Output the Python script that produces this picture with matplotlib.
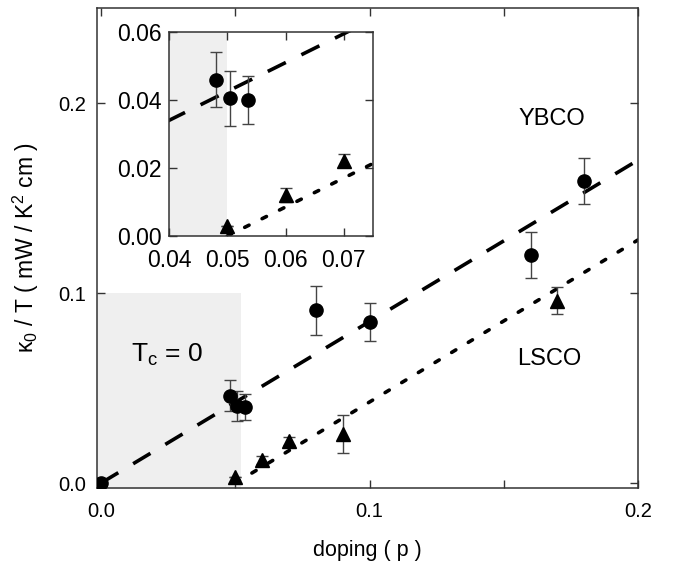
import matplotlib
matplotlib.use('Agg')
import matplotlib.pyplot as plt
from matplotlib.ticker import FormatStrFormatter, MultipleLocator

plt.rcParams['font.family'] = ['Liberation Sans', 'DejaVu Sans']
plt.rcParams['mathtext.default'] = 'regular'
plt.rcParams['lines.scale_dashes'] = False

# ---- data ----
ybco_p = [0.0, 0.048, 0.0505, 0.0535, 0.08, 0.10, 0.16, 0.18]
ybco_k = [0.0, 0.046, 0.0405, 0.040, 0.091, 0.085, 0.120, 0.159]
ybco_err = [0.0, 0.008, 0.008, 0.007, 0.013, 0.010, 0.012, 0.012]

lsco_p = [0.05, 0.06, 0.07, 0.09, 0.17]
lsco_k = [0.003, 0.012, 0.0222, 0.026, 0.096]
lsco_err = [0.0, 0.002, 0.002, 0.010, 0.007]

ybco_fit_p = [0.0, 0.2]
ybco_fit_k = [0.0, 0.170]
lsco_fit_p = [0.05, 0.2]
lsco_fit_k = [0.0, 0.128]

main_xticks = [0.0, 0.1, 0.2]
main_yticks = [0.0, 0.1, 0.2]
inset_xticks = [0.04, 0.05, 0.06, 0.07]
inset_yticks = [0.00, 0.02, 0.04, 0.06]

shade_color = '#efefef'
err_color = '#444444'
spine_color = '#333333'


def draw(ax, ms, tri_ms):
    ax.errorbar(ybco_p, ybco_k, yerr=ybco_err, fmt='o', color='black',
                ms=ms, ecolor=err_color, elinewidth=1.0, capsize=4.5,
                capthick=1.0, zorder=3)
    ax.errorbar(lsco_p, lsco_k, yerr=lsco_err, fmt='^', color='black',
                ms=tri_ms, ecolor=err_color, elinewidth=1.0, capsize=4.5,
                capthick=1.0, zorder=3)
    l1, = ax.plot(ybco_fit_p, ybco_fit_k, color='black', lw=2.6, zorder=2,
                  solid_capstyle='butt')
    l1.set_linestyle((0, (14.5, 12.5)))
    l1.set_dash_capstyle('butt')
    l2, = ax.plot(lsco_fit_p, lsco_fit_k, color='black', lw=2.6, zorder=2)
    l2.set_linestyle((0, (3.5, 10.5)))
    l2.set_dash_capstyle('round')


def style(ax, labelsize):
    for s in ax.spines.values():
        s.set_color(spine_color)
        s.set_linewidth(1.1)
    ax.tick_params(which='both', direction='in', top=True, right=True,
                   color=spine_color, width=1.0, labelsize=labelsize)
    ax.tick_params(which='major', length=6)
    ax.tick_params(which='minor', length=6)


fig = plt.figure(figsize=(6.75, 5.66), dpi=100)

# ---- main axes ----
ax = fig.add_axes([97 / 675, 1 - 488 / 566, (638 - 97) / 675, (488 - 8) / 566])
ax.set_xlim(-0.0015, 0.2)
ax.set_ylim(-0.0026, 0.2501)
ax.fill_between([-0.01, 0.052], -0.01, 0.1, color=shade_color, lw=0, zorder=0)
draw(ax, 9.5, 10.5)
ax.set_xticks(main_xticks)
ax.xaxis.set_minor_locator(MultipleLocator(0.05))
ax.set_yticks(main_yticks)
ax.xaxis.set_major_formatter(FormatStrFormatter('%.1f'))
ax.yaxis.set_major_formatter(FormatStrFormatter('%.1f'))
style(ax, 14.5)
ax.tick_params(axis='x', pad=10)
ax.tick_params(axis='y', pad=8)
ax.set_xlabel('doping ( p )', fontsize=15.5, labelpad=14)
ax.set_ylabel('κ$_0$ / T ( mW / K$^2$ cm )', fontsize=16.5, labelpad=12)

ax.text(0.168, 0.1916, 'YBCO', fontsize=17, ha='center', va='center')
ax.text(0.167, 0.0653, 'LSCO', fontsize=17, ha='center', va='center')
ax.text(0.0245, 0.0674, 'T$_c$ = 0', fontsize=19, ha='center', va='center')

# ---- inset ----
ins = fig.add_axes([169 / 675, 1 - 236 / 566, (373 - 169) / 675, (236 - 32) / 566])
ins.set_xlim(0.04, 0.075)
ins.set_ylim(0.0, 0.06)
ins.axvspan(0.03, 0.05, color=shade_color, lw=0, zorder=0)
draw(ins, 9.5, 10.5)
ins.set_xticks(inset_xticks)
ins.set_yticks(inset_yticks)
ins.xaxis.set_major_formatter(FormatStrFormatter('%.2f'))
ins.yaxis.set_major_formatter(FormatStrFormatter('%.2f'))
style(ins, 16.5)
ins.tick_params(axis='x', pad=9)
ins.tick_params(axis='y', pad=5)

fig.savefig('out.png', dpi=100)
